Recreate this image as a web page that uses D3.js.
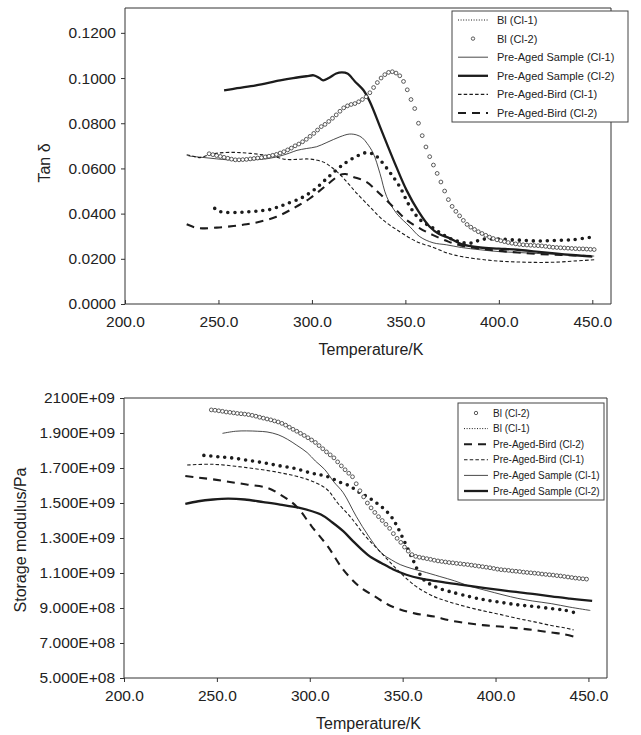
<!DOCTYPE html>
<html><head><meta charset="utf-8">
<script src="https://cdn.jsdelivr.net/npm/d3@7"></script>
<style>
body{margin:0;background:#fff;}
svg text{font-family:Arial,"Liberation Sans",Helvetica,sans-serif;fill:#222;}
</style></head><body>
<svg id="c" width="641" height="735"></svg>
<script>
// ---------- shared axis data ----------
const tempTicks = [200, 250, 300, 350, 400, 450];
const tanTicks = [0, 0.02, 0.04, 0.06, 0.08, 0.10, 0.12];
const tanTickLabels = ["0.0000","0.0200","0.0400","0.0600","0.0800","0.1000","0.1200"];
const modTicks = [0.5, 0.7, 0.9, 1.1, 1.3, 1.5, 1.7, 1.9, 2.1];
const modTickLabels = ["5.000E+08","7.000E+08","9.000E+08","1.100E+09","1.300E+09","1.500E+09","1.700E+09","1.900E+09","2100E+09"];

// ---------- Tan delta (top) ----------
const tanT_BI1 = [248,251,260,267,273,278,283,287,294,301,308,314,318,322,326,329.5,333.5,336.5,341.5,347,352.5,358,365,372,378,384,388,392,400,410,420,430,440,449];
const tanV_BI1 = [.0423,.0409,.0405,.0409,.0413,.0419,.0433,.0445,.0468,.0504,.0556,.0600,.0625,.0645,.0662,.0670,.0660,.0637,.0585,.0519,.0430,.0372,.0335,.0298,.0278,.0268,.0278,.0287,.0287,.0283,.0279,.0281,.0285,.0295];

const tanT_BI2 = [245,247,249,251,253,255,257,259,261,263,265,267,269,271,273,275,277,279,281,283,285,287,289,291,293,295,297,299,301,303,305,307,309,311,313,315,317,319,321,323,325,327,329,331,333,335,337,339,341,343,345,347,349,351,353,355,357,359,361,363,365,367,369,371,373,375,377,379,381,383,385,387,389,391,393,395,397,399,401,403,405,407,409,411,413,415,417,419,421,423,425,427,429,431,433,435,437,439,441,443,445,447,449,451];
const tanV_BI2 = [.0665,.0661,.0657,.0653,.0649,.0645,.0641,.0638,.0638,.0639,.0640,.0642,.0644,.0646,.0648,.0651,.0654,.0658,.0662,.0668,.0674,.0682,.0690,.0700,.0708,.0718,.0729,.0742,.0755,.0770,.0785,.0795,.0808,.0822,.0837,.0853,.0868,.0877,.0883,.0887,.0895,.0905,.0917,.0935,.0958,.0980,.1000,.1015,.1025,.1028,.1022,.1010,.0985,.0948,.0905,.0865,.0800,.0745,.0695,.0652,.0615,.0578,.0540,.0500,.0462,.0432,.0410,.0390,.0370,.0352,.0340,.0330,.0320,.0312,.0304,.0296,.0290,.0284,.0280,.0276,.0272,.0269,.0266,.0264,.0262,.0261,.0260,.0259,.0258,.0257,.0255,.0253,.0251,.0250,.0249,.0248,.0247,.0246,.0245,.0244,.0244,.0243,.0242,.0241];

const tanT_PAS1 = [234,240,246,252,260,268,276,283,288,292,297,302.5,308,315,320,324,327,329.5,332.8,336.4,340,345.3,352.4,357.7,364.8,372,380,390,400,410,420,430,440,451];
const tanV_PAS1 = [.0655,.0650,.0645,.0640,.0636,.0638,.0643,.0655,.0668,.0680,.0688,.0696,.0715,.0740,.0752,.0748,.0735,.0711,.0667,.0578,.0475,.0401,.0342,.0298,.0271,.0262,.0250,.0240,.0232,.0228,.0224,.0220,.0216,.0212];

const tanT_PAS2 = [253,260,270,283,290,297,301,304,306,309,313,316,319,323,327.5,331,336.4,340,345,350.6,357,363,368,374,380,390,400,410,420,435,450];
const tanV_PAS2 = [.0945,.0955,.0968,.0990,.1000,.1008,.1012,.1000,.0990,.1000,.1020,.1025,.1020,.0985,.0947,.0895,.0785,.0711,.0610,.0504,.0410,.0342,.0310,.0290,.0265,.0250,.0245,.0240,.0232,.0220,.0210];

const tanT_PAB1 = [233,236,240,245,250,258,265,272,280,286,292,298,303,307,310,313.5,317,320.5,324,331,338,347,356,365,373,380,390,400,410,420,430,440,451];
const tanV_PAB1 = [.0660,.0655,.0648,.0660,.0668,.0671,.0668,.0662,.0652,.0640,.0640,.0642,.0636,.0625,.0608,.0585,.0556,.0523,.0490,.0430,.0372,.0320,.0276,.0250,.0224,.0210,.0198,.0190,.0186,.0184,.0185,.0190,.0196];

const tanT_PAB2 = [233,237,240,249,258,265,272,281,290,299,308,315,318,322,329,336,343.5,350.6,357.7,364.8,373,380,390,400,410,420,430,440,451];
const tanV_PAB2 = [.0353,.0340,.0335,.0338,.0345,.0353,.0364,.0386,.0423,.0468,.0527,.0571,.0575,.0563,.0541,.0490,.0430,.0372,.0335,.0305,.0276,.0258,.0245,.0235,.0228,.0222,.0218,.0215,.0212];

// ---------- Storage modulus (bottom), values in 1E9 Pa ----------
const modT_BI2 = [247,249,251,253,255,257,259,261,263,265,267,269,271,273,275,277,279,281,283,285,287,289,291,293,295,297,299,301,303,305,307,309,311,313,315,317,319,321,323,325,327,329,331,333,335,337,339,341,343,345,347,349,351,353,355,357,359,361,363,365,367,369,371,373,375,377,379,381,383,385,387,389,391,393,395,397,399,401,403,405,407,409,411,413,415,417,419,421,423,425,427,429,431,433,435,437,439,441,443,445,447,449];
const modV_BI2 = [2.032,2.030,2.027,2.024,2.020,2.018,2.015,2.012,2.010,2.008,2.005,2.001,1.996,1.990,1.985,1.980,1.975,1.969,1.963,1.955,1.945,1.933,1.921,1.910,1.898,1.886,1.873,1.860,1.846,1.828,1.810,1.792,1.775,1.758,1.735,1.712,1.690,1.670,1.650,1.610,1.570,1.535,1.500,1.472,1.446,1.422,1.400,1.378,1.355,1.325,1.298,1.275,1.248,1.225,1.205,1.195,1.190,1.186,1.182,1.178,1.173,1.169,1.166,1.163,1.160,1.158,1.155,1.153,1.150,1.148,1.145,1.142,1.139,1.136,1.133,1.130,1.126,1.122,1.119,1.117,1.115,1.112,1.110,1.108,1.105,1.103,1.101,1.099,1.097,1.094,1.092,1.090,1.088,1.085,1.083,1.080,1.077,1.074,1.071,1.069,1.067,1.065];

const modT_BI1 = [243,250,257,266,275,284,293,301,306,311,316,321.6,326,331.8,336,340.3,344,347,351.3,355.5,358.9,362.3,366,369,375,386,394,403,412,420,430,437,442];
const modV_BI1 = [1.772,1.765,1.759,1.745,1.730,1.712,1.695,1.670,1.660,1.645,1.620,1.597,1.565,1.530,1.500,1.463,1.420,1.367,1.272,1.176,1.100,1.052,1.030,1.014,0.995,0.965,0.947,0.932,0.918,0.909,0.897,0.888,0.875];

const modT_PAS1 = [253,260,266,272,277,283,288,293,298.6,303,308,313,318,325,331.7,338.5,344,348.7,355,360.6,370,378,386,395,404,412,420,430,440,451];
const modV_PAS1 = [1.898,1.910,1.912,1.910,1.906,1.890,1.864,1.830,1.788,1.740,1.692,1.620,1.559,1.424,1.310,1.215,1.175,1.148,1.125,1.109,1.080,1.055,1.025,1.000,0.975,0.955,0.940,0.925,0.905,0.886];

const modT_PAS2 = [233,240,248,256,265,275,284,294,306,312,318,323,328,333,338.5,345,352,360,369,380,394.5,407,420,430,440,452];
const modV_PAS2 = [1.495,1.510,1.520,1.525,1.520,1.505,1.491,1.473,1.434,1.390,1.339,1.285,1.234,1.190,1.157,1.120,1.090,1.068,1.052,1.035,1.014,0.997,0.981,0.966,0.954,0.941];

const modT_PAB1 = [234,248,266,284,298.6,309,315,321.6,330,338.5,347,357,367,375,385,395,403,412,420,430,437,442];
const modV_PAB1 = [1.717,1.721,1.702,1.673,1.635,1.580,1.500,1.424,1.310,1.215,1.120,1.025,0.965,0.935,0.905,0.880,0.862,0.840,0.823,0.800,0.787,0.775];

const modT_PAB2 = [233,240,248,257,266,277,284,292.7,301,309.7,318,326.7,335,342,349,357,367,375,385,393,402.5,411,420,430,437,442];
const modV_PAB2 = [1.654,1.645,1.635,1.620,1.606,1.587,1.549,1.482,1.367,1.252,1.119,1.023,0.966,0.920,0.890,0.868,0.851,0.830,0.813,0.802,0.794,0.785,0.775,0.760,0.750,0.737];

// ---------- styles ----------
const INK = "#1c1c1c";
const STY = {
  BI1:  {kind:"line", w:3.6, dash:"0 7", cap:"round", legendDash:"1 1.6", legendW:1},
  BI2:  {kind:"circle"},
  PAS1: {kind:"line", w:0.8, dash:null},
  PAS2: {kind:"line", w:2.3, dash:null},
  PAB1: {kind:"line", w:1.1, dash:"3.5 2.2"},
  PAB2: {kind:"line", w:2.1, dash:"8 6"}
};
const NAMES = {BI1:"Bl (Cl-1)", BI2:"Bl (Cl-2)", PAS1:"Pre-Aged Sample (Cl-1)", PAS2:"Pre-Aged Sample (Cl-2)", PAB1:"Pre-Aged-Bird (Cl-1)", PAB2:"Pre-Aged-Bird (Cl-2)"};

function zip(t, v){ return t.map((d,i)=>[d, v[i]]); }

const svg = d3.select("#c");

function drawChart(o){
  const g = svg.append("g");
  const x = d3.scaleLinear().domain([200, 460]).range(o.xr);
  const y = d3.scaleLinear().domain(o.yd).range(o.yr);
  const x0 = o.xr[0], x1 = o.xr[1], yb = o.yr[0], yt = o.yr[1];

  // frame top + right
  g.append("line").attr("x1", x0).attr("x2", x1).attr("y1", yt).attr("y2", yt).attr("stroke", "#333").attr("stroke-width", 1);
  g.append("line").attr("x1", x1).attr("x2", x1).attr("y1", yt).attr("y2", yb).attr("stroke", "#333").attr("stroke-width", 1);

  // x axis
  const xa = d3.axisBottom(x).tickValues(tempTicks).tickFormat(d3.format(".1f")).tickSizeOuter(0).tickSizeInner(o.xTickIn ? -4 : 4);
  const gx = g.append("g").attr("transform", `translate(0,${yb})`).call(xa);
  gx.select(".domain").attr("stroke", "#333").attr("d", `M${x0},0H${x1}`);
  gx.selectAll(".tick line").attr("stroke", "#333");
  gx.selectAll(".tick text").attr("y", o.xLabDy).attr("dy", "0.71em").style("font-size", "15.5px").attr("fill", "#222");

  // y axis
  const ya = d3.axisLeft(y).tickValues(o.yTicks).tickFormat((d,i)=>o.yLabels[i]).tickSizeOuter(0).tickSizeInner(4).tickPadding(5);
  const gy = g.append("g").attr("transform", `translate(${x0},0)`).call(ya);
  gy.select(".domain").attr("stroke", "#333").attr("d", `M0,${yb}V${yt}`);
  gy.selectAll(".tick line").attr("stroke", "#333");
  gy.selectAll(".tick text").style("font-size", "15.5px").attr("fill", "#222");

  // titles
  g.append("text").attr("x", (x0 + x1) / 2 + 3).attr("y", yb + o.xTitleDy).attr("text-anchor", "middle").style("font-size", "16px").text("Temperature/K");
  g.append("text").attr("transform", `translate(${o.yTitleX},${o.yTitleY}) rotate(-90)`).attr("text-anchor", "middle").style("font-size", "16px").text(o.yTitle);

  // series
  const line = d3.line().x(d=>x(d[0])).y(d=>y(d[1])).curve(d3.curveCatmullRom.alpha(0.5));
  o.series.forEach(s=>{
    const st = STY[s.key];
    const pts = zip(s.t, s.v);
    if (st.kind === "circle") {
      g.append("g").selectAll("circle").data(pts).join("circle")
        .attr("cx", d=>x(d[0])).attr("cy", d=>y(d[1])).attr("r", 1.9)
        .attr("fill", "#fff").attr("stroke", "#333").attr("stroke-width", 0.8);
    } else {
      const p = g.append("path").attr("d", line(pts)).attr("fill", "none").attr("stroke", INK)
        .attr("stroke-width", st.w);
      if (st.dash) p.attr("stroke-dasharray", st.dash);
      if (st.cap) p.attr("stroke-linecap", st.cap);
    }
  });

  // legend
  const L = o.legend;
  const lg = g.append("g");
  lg.append("rect").attr("x", L.x).attr("y", L.y).attr("width", L.w).attr("height", L.h)
    .attr("fill", "#fff").attr("stroke", "#444").attr("stroke-width", 1);
  L.keys.forEach((k,i)=>{
    const st = STY[k];
    const cy = L.y + L.first + i * L.step;
    if (st.kind === "circle") {
      lg.append("circle").attr("cx", (L.sx0 + L.sx1) / 2).attr("cy", cy).attr("r", 1.7)
        .attr("fill", "#fff").attr("stroke", "#333").attr("stroke-width", 0.8);
    } else {
      const ln = lg.append("line").attr("x1", L.sx0).attr("x2", L.sx1).attr("y1", cy).attr("y2", cy)
        .attr("stroke", INK).attr("stroke-width", st.legendW || st.w);
      const dsh = st.legendDash || st.dash;
      if (dsh) ln.attr("stroke-dasharray", dsh);
    }
    lg.append("text").attr("x", L.tx).attr("y", cy).attr("dy", "0.36em").style("font-size", L.fs + "px").text(NAMES[k]);
  });
}

drawChart({
  xr: [125, 611], yd: [0, 0.131], yr: [304, 8], xTickIn: true, xLabDy: 12, xTitleDy: 51,
  yTicks: tanTicks, yLabels: tanTickLabels, yTitle: "Tan δ", yTitleX: 50, yTitleY: 163,
  series: [
    {key:"PAB2", t:tanT_PAB2, v:tanV_PAB2},
    {key:"PAB1", t:tanT_PAB1, v:tanV_PAB1},
    {key:"PAS1", t:tanT_PAS1, v:tanV_PAS1},
    {key:"PAS2", t:tanT_PAS2, v:tanV_PAS2},
    {key:"BI1", t:tanT_BI1, v:tanV_BI1},
    {key:"BI2", t:tanT_BI2, v:tanV_BI2}
  ],
  legend: {x: 452, y: 11, w: 176, h: 111, first: 9, step: 18.6, sx0: 458, sx1: 488, tx: 497, fs: 11,
           keys: ["BI1","BI2","PAS1","PAS2","PAB1","PAB2"]}
});

drawChart({
  xr: [124, 607], yd: [0.5, 2.1], yr: [678, 398], xTickIn: false, xLabDy: 12, xTitleDy: 51,
  yTicks: modTicks, yLabels: modTickLabels, yTitle: "Storage modulus/Pa", yTitleX: 26, yTitleY: 540,
  series: [
    {key:"PAB2", t:modT_PAB2, v:modV_PAB2},
    {key:"PAB1", t:modT_PAB1, v:modV_PAB1},
    {key:"PAS1", t:modT_PAS1, v:modV_PAS1},
    {key:"PAS2", t:modT_PAS2, v:modV_PAS2},
    {key:"BI1", t:modT_BI1, v:modV_BI1},
    {key:"BI2", t:modT_BI2, v:modV_BI2}
  ],
  legend: {x: 458, y: 403, w: 146, h: 97, first: 10, step: 15.6, sx0: 464, sx1: 488, tx: 493, fs: 10,
           keys: ["BI2","BI1","PAB2","PAB1","PAS1","PAS2"]}
});
</script></body></html>
